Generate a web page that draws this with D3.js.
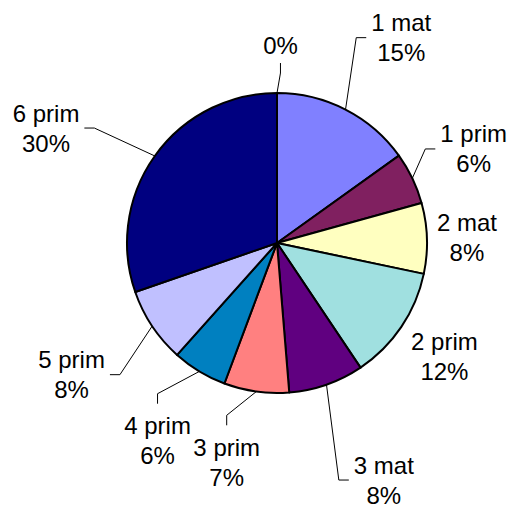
<!DOCTYPE html>
<html>
<head>
<meta charset="utf-8">
<script src="https://cdn.jsdelivr.net/npm/d3@7"></script>
<style>
  body { margin: 0; background: #fff; }
</style>
</head>
<body>
<div id="chart"></div>
<script>
// data
const categories = ["", "1 mat", "1 prim", "2 mat", "2 prim", "3 mat", "3 prim", "4 prim", "5 prim", "6 prim"];
const values = [0, 15.1, 5.6, 7.6, 12.3, 8.1, 7.0, 5.9, 8.1, 30.3];
const colors = ["#9999ff", "#8080ff", "#802060", "#ffffc0", "#a0e0e0", "#600080", "#ff8080", "#0080c0", "#c0c0ff", "#000080"];

// label layout: distance from centre, angle nudge (deg), leader stub direction
const labelDist = [198, 240, 218, 190, 202, 260, 225, 231, 244, 258];
const labelNudge = [1, 4, 0, 0, 0, -5, 5, 0, 1, -9];
const labelStub = ["v", "h", "h", "h", "h", "h", "v", "v", "h", "h"];

const w = 509, h = 508;
const cx = 277, cy = 243, radius = 150;
const fontSize = 24, lineH = 30;

const svg = d3.select("#chart")
  .append("svg")
    .attr("width", w)
    .attr("height", h)
    .style("font-family", "'Liberation Sans', Arial, sans-serif");

const g = svg.append("g")
  .attr("transform", `translate(${cx}, ${cy})`);

const total = d3.sum(values);
const rows = categories.map((c, i) => ({name: c, value: values[i], i: i}));

const pie = d3.pie()
  .sort(null)
  .value(d => d.value);

const arc = d3.arc()
  .innerRadius(0)
  .outerRadius(radius);

const arcs = pie(rows);

// slices
g.selectAll("path.slice")
  .data(arcs)
  .enter()
  .append("path")
    .attr("class", "slice")
    .attr("d", arc)
    .attr("fill", d => colors[d.data.i])
    .attr("stroke", "#000")
    .attr("stroke-width", 2)
    .attr("stroke-linejoin", "round");

// labels
const labelG = g.append("g");
const leaderG = g.append("g");

arcs.forEach(function(d) {
  const i = d.data.i;
  const mid = (d.startAngle + d.endAngle) / 2;
  const a = mid + labelNudge[i] * Math.PI / 180;
  const lx = labelDist[i] * Math.sin(a);
  const ly = -labelDist[i] * Math.cos(a);
  const pct = Math.round(d.data.value / total * 100) + "%";
  const lines = d.data.name ? [d.data.name, pct] : [pct];
  const first = ly - (lines.length - 1) * lineH / 2;

  let maxW = 0;
  lines.forEach(function(t, k) {
    const txt = labelG.append("text")
      .attr("x", lx)
      .attr("y", first + k * lineH + 8.5)
      .attr("text-anchor", "middle")
      .attr("font-size", fontSize)
      .attr("fill", "#000")
      .text(t);
    maxW = Math.max(maxW, txt.node().getComputedTextLength());
  });

  const left = lx - maxW / 2, right = lx + maxW / 2;
  const top = first - 17, bottom = first + (lines.length - 1) * lineH + 13;

  // gap between the pie and the label box
  const nx = Math.max(left, Math.min(0, right));
  const ny = Math.max(top, Math.min(0, bottom));
  const gap = Math.hypot(nx, ny) - radius;
  if (gap < 20) return;

  const p0 = [radius * Math.sin(mid), -radius * Math.cos(mid)];
  let p1, p2;
  if (labelStub[i] === "h") {
    if (lx > p0[0]) { p2 = [left - 5, ly]; p1 = [left - 15, ly]; }
    else { p2 = [right + 5, ly]; p1 = [right + 15, ly]; }
  } else {
    if (ly > p0[1]) { p2 = [lx, top - 5]; p1 = [lx, top - 15]; }
    else { p2 = [lx, bottom + 5]; p1 = [lx, bottom + 15]; }
  }
  leaderG.append("polyline")
    .attr("points", [p0, p1, p2].map(p => p.join(",")).join(" "))
    .attr("fill", "none")
    .attr("stroke", "#000")
    .attr("stroke-width", 1);
});
</script>
</body>
</html>
